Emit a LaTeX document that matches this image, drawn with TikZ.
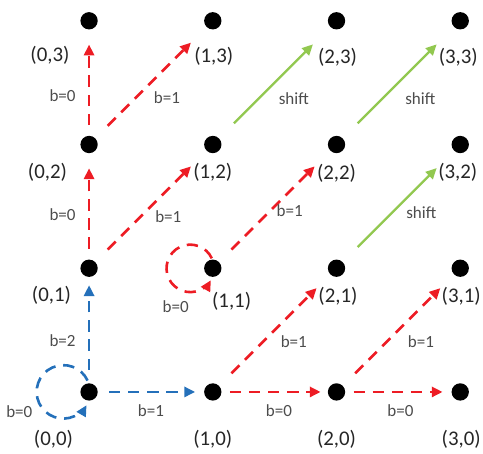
\documentclass[tikz,border=0pt]{standalone}
\usepackage{fontspec}
\setmainfont{Carlito}
\usepackage{tikz}
\usetikzlibrary{positioning,arrows.meta,calc}
\usepackage{xcolor}
\definecolor{bitred}{RGB}{237,28,36}
\definecolor{bitblue}{RGB}{36,112,186}
\definecolor{shiftgreen}{RGB}{146,200,80}

\begin{document}
\begin{tikzpicture}[
  dot/.style={circle, fill=black, inner sep=0pt, minimum size=0.35cm},
  ptlabel/.style={font=\fontsize{12}{14}\selectfont, text=black!85, inner sep=0pt},
  blab/.style={font=\fontsize{9.8}{11}\selectfont, text=black!70, inner sep=1pt},
  dlab/.style={blab, xshift=10pt},
  dasharr/.style={line width=1.5pt, dash pattern=on 6.5pt off 4.5pt,
    -{Triangle[length=6.2pt,width=5.8pt]}},
  redarr/.style={dasharr, bitred},
  bluearr/.style={dasharr, bitblue},
  shiftarr/.style={line width=1.3pt, shiftgreen,
    -{Triangle[length=6.2pt,width=5.8pt]}, shorten <=12pt, shorten >=14pt}
]
\useasboundingbox (-1.80,-1.25) rectangle (7.96,7.92);

% Grid points
\node[dot] (d00) at (0,0) {};
\node[dot] (d10) at (2.5,0) {};
\node[dot] (d20) at (5,0) {};
\node[dot] (d30) at (7.5,0) {};
\node[dot] (d01) at (0,2.5) {};
\node[dot] (d11) at (2.5,2.5) {};
\node[dot] (d21) at (5,2.5) {};
\node[dot] (d31) at (7.5,2.5) {};
\node[dot] (d02) at (0,5) {};
\node[dot] (d12) at (2.5,5) {};
\node[dot] (d22) at (5,5) {};
\node[dot] (d32) at (7.5,5) {};
\node[dot] (d03) at (0,7.5) {};
\node[dot] (d13) at (2.5,7.5) {};
\node[dot] (d23) at (5,7.5) {};
\node[dot] (d33) at (7.5,7.5) {};

% Point labels
\node[ptlabel] (l00) at ($(d00)+(-0.72,-0.96)$) {(0,0)};
\node[ptlabel] (l10) at ($(d10)+(0,-0.95)$) {(1,0)};
\node[ptlabel] (l20) at ($(d20)+(0,-0.96)$) {(2,0)};
\node[ptlabel] (l30) at ($(d30)+(0.02,-0.96)$) {(3,0)};
\node[ptlabel] (l01) at ($(d01)+(-0.76,-0.55)$) {(0,1)};
\node[ptlabel] (l11) at ($(d11)+(0.38,-0.67)$) {(1,1)};
\node[ptlabel] (l21) at ($(d21)+(0.03,-0.57)$) {(2,1)};
\node[ptlabel] (l31) at ($(d31)+(0.02,-0.57)$) {(3,1)};
\node[ptlabel] (l02) at ($(d02)+(-0.84,-0.57)$) {(0,2)};
\node[ptlabel] (l12) at ($(d12)+(0,-0.57)$) {(1,2)};
\node[ptlabel] (l22) at ($(d22)+(0,-0.59)$) {(2,2)};
\node[ptlabel] (l32) at ($(d32)+(-0.05,-0.57)$) {(3,2)};
\node[ptlabel] (l03) at ($(d03)+(-0.79,-0.70)$) {(0,3)};
\node[ptlabel] (l13) at ($(d13)+(0.02,-0.71)$) {(1,3)};
\node[ptlabel] (l23) at ($(d23)+(0.02,-0.73)$) {(2,3)};
\node[ptlabel] (l33) at ($(d33)+(-0.04,-0.73)$) {(3,3)};

% Blue edges from (0,0)
\draw[bluearr, shorten <=7.5pt, shorten >=4.6pt] (d00) -- node[blab, left=6pt, pos=0.4] {b=2} (d01);
\draw[bluearr, shorten <=6.3pt, shorten >=5pt] (d00) -- node[blab, below=5.8pt, pos=0.5] {b=1} (d10);
\draw[bluearr] ($(d00)+(-0.03,0.23)$) arc[start angle=25, end angle=330, radius=0.54];
\node[blab] (b00) at ($(d00)+(-1.41,-0.40)$) {b=0};

% Red edges
\draw[redarr, shorten <=6pt, shorten >=8.5pt] (d01) -- node[blab, left=6pt, pos=0.42] {b=0} (d02);
\draw[redarr, shorten <=6pt, shorten >=8.5pt] (d02) -- node[blab, left=6pt, pos=0.38] {b=0} (d03);
\draw[redarr, shorten <=4.6pt, shorten >=4pt] (d10) -- node[blab, below=5.8pt, pos=0.54] {b=0} (d20);
\draw[redarr, shorten <=4.6pt, shorten >=5pt] (d20) -- node[blab, below=5.8pt, pos=0.52] {b=0} (d30);
\draw[redarr, shorten <=10pt, shorten >=12.6pt] (d02) -- node[dlab, pos=0.5, xshift=-0.8pt, yshift=-8.6pt] {b=1} (d13);
\draw[redarr, shorten <=10pt, shorten >=12.6pt] (d01) -- node[dlab, pos=0.5, yshift=-5.7pt] {b=1} (d12);
\draw[redarr, shorten <=10pt, shorten >=12.6pt] (d11) -- node[dlab, pos=0.5, xshift=-1.4pt, yshift=-2.3pt] {b=1} (d22);
\draw[redarr, shorten <=10pt, shorten >=11pt] (d10) -- node[dlab, pos=0.5, xshift=1pt, yshift=-6.9pt] {b=1} (d21);
\draw[redarr, shorten <=10pt, shorten >=11pt] (d20) -- node[dlab, pos=0.5, xshift=3pt, yshift=-6.9pt] {b=1} (d31);
\draw[redarr] ($(d11)+(-0.02,0.20)$) arc[start angle=25, end angle=330, radius=0.48];
\node[blab] (b11) at ($(d11)+(-0.75,-0.77)$) {b=0};

% Green shift edges
\draw[shiftarr] (d12) -- node[dlab, pos=0.5, xshift=1pt, yshift=-9.2pt] {shift} (d23);
\draw[shiftarr] (d22) -- node[dlab, pos=0.5, xshift=2.6pt, yshift=-9.2pt] {shift} (d33);
\draw[shiftarr] (d21) -- node[dlab, pos=0.5, xshift=3.2pt, yshift=-3.4pt] {shift} (d32);

\end{tikzpicture}
\end{document}
